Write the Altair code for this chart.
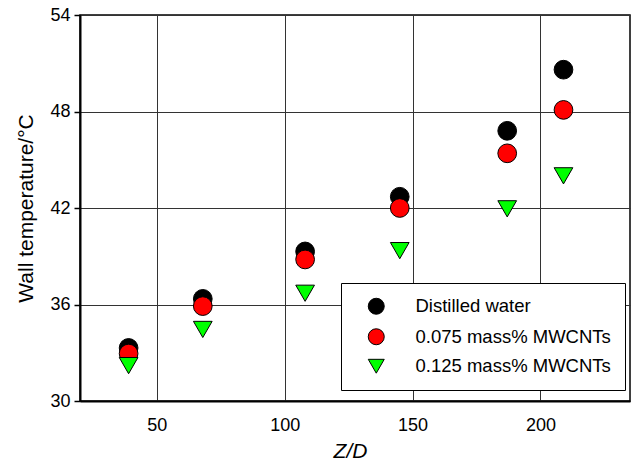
import altair as alt
import pandas as pd

# Data
zd = [39, 68, 108, 145, 187, 209]
water = [33.3, 36.35, 39.3, 42.7, 46.8, 50.6]
mwcnt_075 = [32.95, 35.9, 38.8, 42.0, 45.4, 48.1]
mwcnt_125 = [32.2, 34.45, 36.7, 39.35, 41.95, 44.0]

series = ["Distilled water", "0.075 mass% MWCNTs", "0.125 mass% MWCNTs"]
colors = ["#000000", "#ff0000", "#00ff00"]
shapes = ["circle", "circle", "triangle-down"]
x_ticks = [50, 100, 150, 200]
y_ticks = [30, 36, 42, 48, 54]

rows = []
for k, (name, vals) in enumerate(zip(series, [water, mwcnt_075, mwcnt_125])):
    for x, y in zip(zd, vals):
        rows.append({"zd": x, "temp": y, "series": name, "k": k})
df = pd.DataFrame(rows)

FONT = "Liberation Sans"

legend = alt.Legend(
    title=None,
    orient="none",
    legendX=261,
    legendY=268,
    padding=14,
    symbolOffset=12,
    labelOffset=30,
    rowPadding=9.5,
    symbolSize=256,
    symbolStrokeColor="#000000",
    symbolStrokeWidth=1,
    labelFont=FONT,
    labelFontSize=18.5,
    labelColor="#000000",
    labelLimit=400,
    strokeColor="#000000",
    fillColor="#ffffff",
)

chart = alt.Chart(df).mark_point(
    filled=True, size=350, stroke="#000000", strokeWidth=1, opacity=1
).encode(
    x=alt.X(
        "zd:Q",
        scale=alt.Scale(domain=[20, 235], nice=False, zero=False),
        axis=alt.Axis(
            values=x_ticks,
            title="Z/D",
            ticks=False,
            labelPadding=15,
            labelFont=FONT,
            labelFontSize=18,
            labelColor="#000000",
            domainColor="#000000",
            domainWidth=2,
            grid=True,
            gridColor="#333333",
            gridWidth=1,
            titleFont=FONT,
            titleFontSize=21,
            titleFontStyle="italic",
            titleFontWeight="normal",
            titleColor="#000000",
            titleX=270,
            titleY=56,
            titleAlign="center",
            titleBaseline="alphabetic",
        ),
    ),
    y=alt.Y(
        "temp:Q",
        scale=alt.Scale(domain=[30, 54], nice=False, zero=False),
        axis=alt.Axis(
            values=y_ticks,
            title="Wall temperature/°C",
            tickSize=6,
            tickWidth=1.5,
            tickColor="#000000",
            labelPadding=4,
            labelFont=FONT,
            labelFontSize=18,
            labelColor="#000000",
            domainColor="#000000",
            domainWidth=2,
            grid=True,
            gridColor="#333333",
            gridWidth=1,
            titleFont=FONT,
            titleFontSize=21,
            titleFontWeight="normal",
            titleColor="#000000",
            titleX=-54,
            titleY=193,
            titleAngle=270,
            titleAlign="center",
            titleBaseline="middle",
        ),
    ),
    color=alt.Color("series:N", sort=series,
                    scale=alt.Scale(domain=series, range=colors), legend=legend),
    shape=alt.Shape("series:N", sort=series,
                    scale=alt.Scale(domain=series, range=shapes), legend=legend),
    order=alt.Order("k:Q"),
).properties(
    width=550,
    height=386,
    padding={"left": 80, "top": 15, "right": 3, "bottom": 60},
    autosize=alt.AutoSizeParams(type="none"),
).configure_view(
    stroke="#000000", strokeWidth=1.5
)

chart.save("out.html", embed_options={"renderer": "svg", "actions": False})
